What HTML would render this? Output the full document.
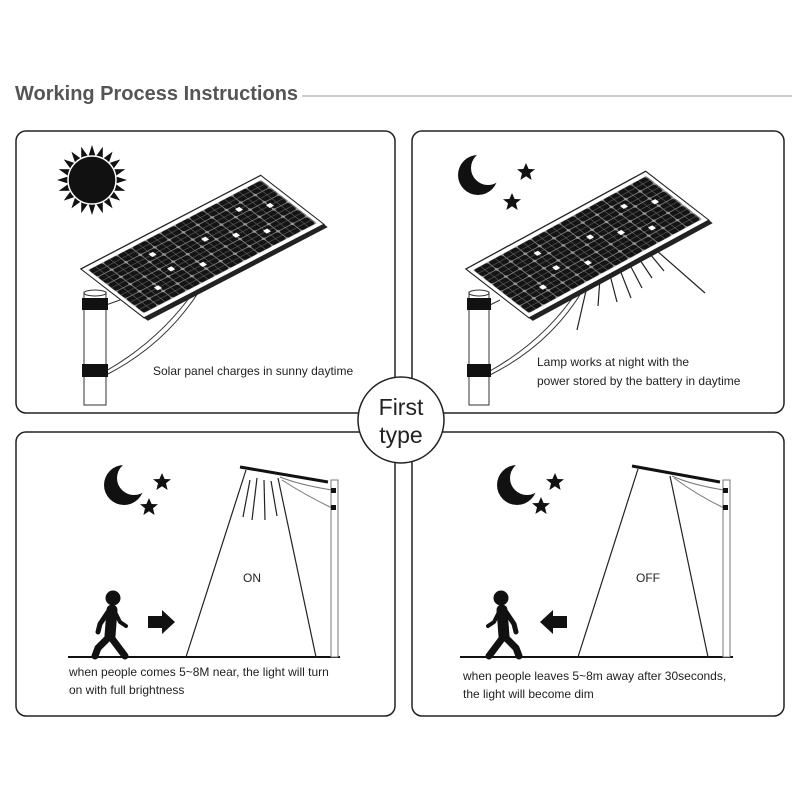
<!DOCTYPE html>
<html><head><style>
body{margin:0;background:#fff;width:800px;height:800px;overflow:hidden}
svg{display:block}
text{font-family:"Liberation Sans",sans-serif;fill:#222}
</style></head><body>
<svg width="800" height="800" viewBox="0 0 800 800">
<defs>
<pattern id="grid" width="16.6" height="10" patternUnits="userSpaceOnUse">
<rect width="16.6" height="10" fill="#999"/>
<rect x="0.4" y="0.3" width="15.8" height="9.4" rx="2" fill="#141414"/>
<path d="M8.3 0V10M0 5H16.6" stroke="#777" stroke-width="0.5"/>
</pattern>
<g id="panel">
<rect x="-4" y="-4" width="208" height="68" fill="#fff" stroke="#222" stroke-width="1.2"/>
<rect x="0" y="0" width="200" height="60" fill="url(#grid)"/>
<g fill="#fff">
<rect x="30" y="43" width="5" height="4"/><rect x="56" y="33" width="5" height="4"/><rect x="82" y="43" width="5" height="4"/>
<rect x="106" y="23" width="5" height="4"/><rect x="131" y="33" width="5" height="4"/><rect x="156" y="13" width="5" height="4"/>
<rect x="181" y="23" width="5" height="4"/><rect x="156" y="43" width="5" height="4"/><rect x="56" y="13" width="5" height="4"/>
</g>
<rect x="-4" y="64" width="208" height="4" fill="#222"/>
</g>
<g id="moon"><circle r="20" fill="#111"/><circle cx="10" cy="-7" r="17" fill="#fff"/></g>
<path id="star" d="M0,-9 L2.6,-3 9,-2.8 4,1.3 5.6,8 0,4.3 -5.6,8 -4,1.3 -9,-2.8 -2.6,-3Z" fill="#111"/>
<g id="person" fill="#111" stroke="#111" stroke-linecap="round" stroke-linejoin="round">
<circle cx="5" cy="-52" r="7.5" stroke="none"/>
<path d="M4 -40 L2 -14" stroke-width="11" fill="none"/>
<path d="M2 -14 L-10 -2 L-13 6" stroke-width="7" fill="none"/>
<path d="M2 -14 L11 -2 L17 6" stroke-width="7" fill="none"/>
<path d="M0 -38 L-8 -26 L-10 -18" stroke-width="5" fill="none"/>
<path d="M7 -38 L12 -28 L18 -24" stroke-width="4" fill="none"/>
</g>
<path id="ray" d="M-3.5,-24 0,-35 3.5,-24Z" fill="#111"/>
</defs>

<text x="15" y="100" font-size="20" font-weight="bold" style="fill:#555">Working Process Instructions</text>
<line x1="302" y1="96" x2="792" y2="96" stroke="#999" stroke-width="1"/>

<g fill="none" stroke="#222" stroke-width="1.5">
<rect x="16" y="131" width="379" height="282" rx="10"/>
<rect x="412" y="131" width="372" height="282" rx="10"/>
<rect x="16" y="432" width="379" height="284" rx="10"/>
<rect x="412" y="432" width="372" height="284" rx="10"/>
</g>

<!-- Panel 1 -->
<g transform="translate(92,180)">
<use href="#ray" transform="rotate(0)"/><use href="#ray" transform="rotate(18)"/><use href="#ray" transform="rotate(36)"/>
<use href="#ray" transform="rotate(54)"/><use href="#ray" transform="rotate(72)"/><use href="#ray" transform="rotate(90)"/>
<use href="#ray" transform="rotate(108)"/><use href="#ray" transform="rotate(126)"/><use href="#ray" transform="rotate(144)"/>
<use href="#ray" transform="rotate(162)"/><use href="#ray" transform="rotate(180)"/><use href="#ray" transform="rotate(198)"/>
<use href="#ray" transform="rotate(216)"/><use href="#ray" transform="rotate(234)"/><use href="#ray" transform="rotate(252)"/>
<use href="#ray" transform="rotate(270)"/><use href="#ray" transform="rotate(288)"/><use href="#ray" transform="rotate(306)"/>
<use href="#ray" transform="rotate(324)"/><use href="#ray" transform="rotate(342)"/>
<circle r="24" fill="#111" stroke="#fff" stroke-width="1.5"/>
</g>
<g fill="none" stroke="#333" stroke-width="1">
<path d="M106 371 Q160 340 195 290"/><path d="M106 375 Q165 345 200 290"/>
<line x1="106" y1="305" x2="120" y2="300"/>
</g>
<g transform="matrix(0.865,-0.45,0.93,0.72,88,270)"><use href="#panel"/></g>
<rect x="84" y="292" width="22" height="113" fill="#fff" stroke="#333"/>
<ellipse cx="95" cy="293" rx="11" ry="3" fill="#fff" stroke="#333"/>
<rect x="82" y="298" width="26" height="12" fill="#111"/>
<rect x="82" y="364" width="26" height="13" fill="#111"/>
<text x="153" y="375" font-size="12">Solar panel charges in sunny daytime</text>

<!-- Panel 2 -->
<use href="#moon" transform="translate(478,175)"/>
<use href="#star" transform="translate(526,172)"/>
<use href="#star" transform="translate(512,202)"/>
<g fill="none" stroke="#333" stroke-width="1">
<path d="M490 371 Q545 340 578 290"/><path d="M490 375 Q550 345 583 290"/>
<line x1="490" y1="305" x2="500" y2="300"/>
</g>
<g stroke="#222" stroke-width="1.2">
<line x1="588" y1="282" x2="577" y2="330"/><line x1="600" y1="278" x2="598" y2="306"/>
<line x1="610" y1="275" x2="617" y2="302"/><line x1="620" y1="270" x2="631" y2="298"/>
<line x1="630" y1="265" x2="642" y2="288"/><line x1="640" y1="260" x2="652" y2="278"/>
<line x1="650" y1="254" x2="664" y2="271"/><line x1="656" y1="250" x2="705" y2="293"/>
</g>
<g transform="matrix(0.865,-0.47,0.93,0.72,473,270)"><use href="#panel"/></g>
<rect x="469" y="292" width="20" height="113" fill="#fff" stroke="#333"/>
<ellipse cx="479" cy="293" rx="10" ry="3" fill="#fff" stroke="#333"/>
<rect x="467" y="298" width="24" height="12" fill="#111"/>
<rect x="467" y="364" width="24" height="13" fill="#111"/>
<text x="537" y="366" font-size="12">Lamp works at night with the</text>
<text x="537" y="385" font-size="12">power stored by the battery in daytime</text>

<!-- Panel 3 -->
<use href="#moon" transform="translate(124,485)"/>
<use href="#star" transform="translate(162,482)"/>
<use href="#star" transform="translate(149,507)"/>
<line x1="68" y1="657" x2="340" y2="657" stroke="#111" stroke-width="2"/>
<rect x="331" y="480" width="7" height="177" fill="#fff" stroke="#777"/>
<line x1="240" y1="467" x2="328" y2="482" stroke="#111" stroke-width="3"/>
<g fill="none" stroke="#777" stroke-width="1"><path d="M280 477 Q300 485 332 490"/><path d="M282 480 Q305 495 332 508"/></g>
<rect x="331" y="488" width="5" height="5" fill="#111"/><rect x="331" y="505" width="5" height="5" fill="#111"/>
<g stroke="#222" stroke-width="1.2">
<line x1="246" y1="470" x2="186" y2="657"/><line x1="278" y1="478" x2="316" y2="657"/>
<line x1="250" y1="480" x2="243" y2="517"/><line x1="257" y1="478" x2="252" y2="520"/>
<line x1="264" y1="480" x2="265" y2="520"/><line x1="271" y1="481" x2="277" y2="516"/>
</g>
<text x="243" y="582" font-size="12">ON</text>
<use href="#person" transform="translate(108,650)"/>
<path d="M148 616 H162 V610 L175 622 L162 634 V628 H148Z" fill="#111"/>
<text x="69" y="676" font-size="12">when people comes 5~8M near, the light will turn</text>
<text x="69" y="694" font-size="12">on with full brightness</text>

<!-- Panel 4 -->
<use href="#moon" transform="translate(517,485)"/>
<use href="#star" transform="translate(555,482)"/>
<use href="#star" transform="translate(541,506)"/>
<line x1="460" y1="657" x2="733" y2="657" stroke="#111" stroke-width="2"/>
<rect x="723" y="480" width="7" height="177" fill="#fff" stroke="#777"/>
<line x1="632" y1="466" x2="720" y2="482" stroke="#111" stroke-width="3"/>
<g fill="none" stroke="#777" stroke-width="1"><path d="M672 476 Q692 485 724 490"/><path d="M674 478 Q697 495 724 508"/></g>
<rect x="723" y="488" width="5" height="5" fill="#111"/><rect x="723" y="505" width="5" height="5" fill="#111"/>
<g stroke="#222" stroke-width="1.2">
<line x1="638" y1="469" x2="578" y2="657"/><line x1="670" y1="476" x2="708" y2="657"/>
</g>
<text x="636" y="582" font-size="12">OFF</text>
<g transform="translate(506,650) scale(-1,1)"><use href="#person"/></g>
<path d="M567 616 H553 V610 L540 622 L553 634 V628 H567Z" fill="#111"/>
<text x="463" y="680" font-size="12">when people leaves 5~8m away after 30seconds,</text>
<text x="463" y="698" font-size="12">the light will become dim</text>

<!-- Center circle -->
<circle cx="401" cy="420" r="43" fill="#fff" stroke="#222" stroke-width="1.5"/>
<text x="401" y="415" font-size="23" text-anchor="middle">First</text>
<text x="401" y="443" font-size="23" text-anchor="middle">type</text>
</svg>
</body></html>
